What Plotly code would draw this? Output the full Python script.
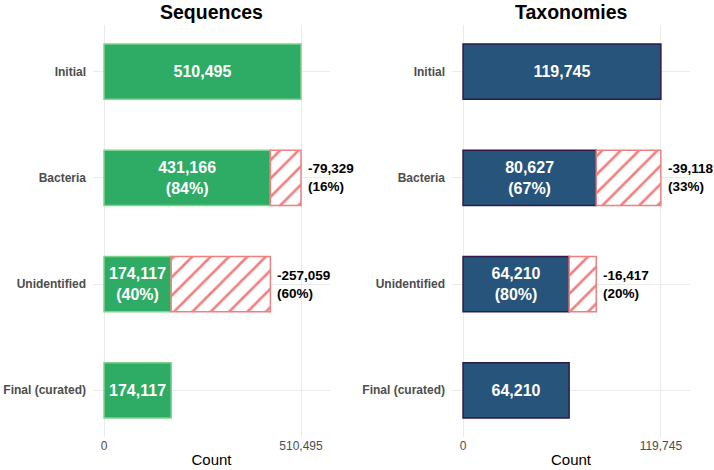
import plotly.graph_objects as go

categories = ["Initial", "Bacteria", "Unidentified", "Final (curated)"]

seq_kept = [510495, 431166, 174117, 174117]
seq_kept_pct = [None, 84, 40, None]
seq_removed = [None, 79329, 257059, None]
seq_removed_pct = [None, 16, 60, None]

tax_kept = [119745, 80627, 64210, 64210]
tax_kept_pct = [None, 67, 80, None]
tax_removed = [None, 39118, 16417, None]
tax_removed_pct = [None, 33, 20, None]

W, H = 714, 470
FONT = "Liberation Sans"
GRID = "#ebebeb"

panels = [
    dict(title="Sequences", kept=seq_kept, kpct=seq_kept_pct, rem=seq_removed, rpct=seq_removed_pct,
         fill="#2eab65", line="#7dd58a", dom=[93 / W, 330 / W], xa="x", ya="y"),
    dict(title="Taxonomies", kept=tax_kept, kpct=tax_kept_pct, rem=tax_removed, rpct=tax_removed_pct,
         fill="#26547b", line="#2d1a4a", dom=[452 / W, 690 / W], xa="x2", ya="y2"),
]

fig = go.Figure()
annotations = []
ydom = [1 - 437 / H, 1 - 25 / H]

for i, p in enumerate(panels):
    inner = []
    for v, pc in zip(p["kept"], p["kpct"]):
        t = f"{v:,}"
        if pc is not None:
            t += f"<br>({pc}%)"
        inner.append(t)
    fig.add_trace(go.Bar(
        y=categories, x=p["kept"], orientation="h", xaxis=p["xa"], yaxis=p["ya"],
        width=0.52, marker=dict(color=p["fill"], line=dict(color=p["line"], width=1.5)),
        text=inner, textposition="inside", insidetextanchor="middle", constraintext="none",
        textfont=dict(family=FONT, size=16, color="white", weight="bold"),
        showlegend=False, hoverinfo="skip",
    ))
    fig.add_trace(go.Bar(
        y=categories, x=p["rem"], base=p["kept"], orientation="h", xaxis=p["xa"], yaxis=p["ya"],
        width=0.52,
        marker=dict(color="white", line=dict(color="#f08080", width=1.5),
                    pattern=dict(shape="/", fgcolor="#f08080", bgcolor="white", size=13,
                                 solidity=0.2, fillmode="overlay", fgopacity=1)),
        showlegend=False, hoverinfo="skip",
    ))
    for c, k, r, rp in zip(categories, p["kept"], p["rem"], p["rpct"]):
        if r is None:
            continue
        annotations.append(dict(
            x=k + r, y=c, xref=p["xa"], yref=p["ya"], xanchor="left", yanchor="middle",
            xshift=5, align="left", showarrow=False, text=f"-{r:,}<br>({rp}%)",
            font=dict(family=FONT, size=13.5, color="black", weight="bold"),
        ))
    mx = p["kept"][0]
    axn = "xaxis" if i == 0 else "xaxis2"
    ayn = "yaxis" if i == 0 else "yaxis2"
    fig.layout[axn] = dict(
        domain=p["dom"], anchor=p["ya"], range=[-11 / 197 * mx, 226 / 197 * mx],
        tickvals=[0, mx], ticktext=["0", f"{mx:,}"], showgrid=True, gridcolor=GRID, gridwidth=1,
        zeroline=False, showline=False, ticks="",
        tickfont=dict(family=FONT, size=12, color="#4d4d4d"),
        title=dict(text="Count", font=dict(family=FONT, size=15, color="black"), standoff=2),
    )
    fig.layout[ayn] = dict(
        domain=ydom, anchor=p["xa"], type="category", categoryorder="array", categoryarray=categories,
        range=[3.44, -0.44], showgrid=True, gridcolor=GRID, gridwidth=1, zeroline=False,
        showline=False, ticks="", ticklabelstandoff=6,
        tickfont=dict(family=FONT, size=12, color="#4d4d4d", weight="bold"),
    )
    annotations.append(dict(
        x=(p["dom"][0] + p["dom"][1]) / 2, y=1, xref="paper", yref="paper",
        xanchor="center", yanchor="top", showarrow=False, text=p["title"], borderpad=0,
        font=dict(family=FONT, size=19.5, color="black", weight="bold"),
    ))

fig.update_layout(
    width=W, height=H, margin=dict(l=0, r=0, t=0, b=0),
    paper_bgcolor="white", plot_bgcolor="white", barmode="overlay",
    annotations=annotations,
)

fig.write_html("out.html")
